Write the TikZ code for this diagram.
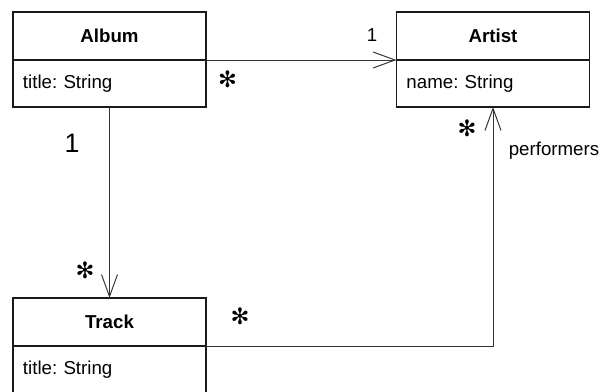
\documentclass[tikz,border=0pt]{standalone}
\usepackage{fontspec}
\setmainfont{Liberation Sans}
\newfontfamily\dingfont{DejaVu Sans}
\usetikzlibrary{positioning,arrows.meta}
\definecolor{ink}{HTML}{1A1A1A}
\definecolor{wire}{HTML}{333333}
\frenchspacing

\tikzset{
  classname/.style={draw=ink,line width=0.9pt,minimum width=4.825cm,
    minimum height=1.2cm,inner sep=0pt,outer sep=0pt,
    font=\bfseries\fontsize{13.3}{15}\selectfont},
  classattr/.style={draw=ink,line width=0.9pt,minimum width=4.825cm,
    minimum height=1.175cm,inner xsep=0.25cm,outer sep=0pt,
    text width=4.325cm,align=left,font=\fontsize{13.3}{15}\selectfont},
  mult/.style={font=\dingfont\fontsize{16}{16}\selectfont,inner sep=0pt},
  role/.style={font=\fontsize{13.3}{15}\selectfont,inner sep=0pt},
  assoc/.style={draw=wire,line width=0.7pt,
    -{Straight Barb[length=0.55cm,width=0.4cm]}}
}

\begin{document}
\begin{tikzpicture}[x=0.025cm,y=-0.025cm]

  % frame
  \useasboundingbox (0,0) rectangle (603,392);
  \clip (0,0) rectangle (603,392);

  % classes
  \node[classname] (albumname) at (109.5,36) {Album};
  \node[classattr,below=0pt of albumname] (albumattr) {title: String};

  \node[classname] (artistname) at (493,36) {Artist};
  \node[classattr,below=0pt of artistname] (artistattr) {name: String};

  \node[classname] (trackname) at (109.5,322) {Track};
  \node[classattr,below=0pt of trackname] (trackattr) {title: String};

  % associations
  \draw[assoc] (albumattr.north east) -- (artistattr.north west);
  \draw[assoc] (albumattr.south) -- (trackname.north);
  \draw[assoc] (trackattr.north east) -| (artistattr.south);

  % multiplicities
  \node[mult] (albumartistmany) at (227.5,79.5) {✻};
  \node[role] (albumartistone) at (372,35) {1};
  \node[font=\fontsize{19}{21}\selectfont,inner sep=0pt] (albumtrackone)
    at (72,143) {1};
  \node[mult] (albumtrackmany) at (85,270) {✻};
  \node[mult] (trackartistmany) at (240,316.5) {✻};
  \node[mult] (performersmany) at (467,128.5) {✻};
  \node[role] (performers) at (554,151) {performers};

\end{tikzpicture}
\end{document}
